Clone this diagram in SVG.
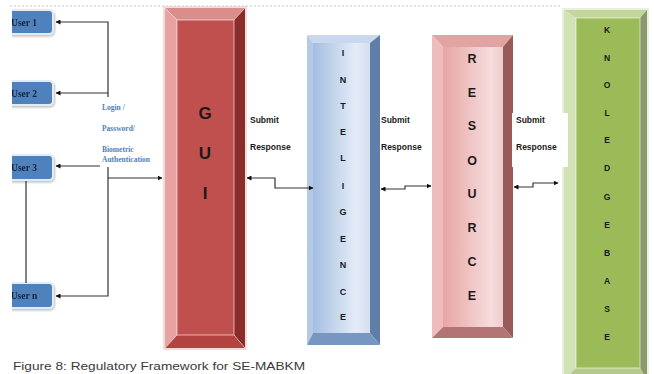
<svg xmlns="http://www.w3.org/2000/svg" width="654" height="374" viewBox="0 0 654 374">
  <defs>
    <marker id="ah" viewBox="0 0 10 10" refX="9" refY="5" markerWidth="5" markerHeight="5" orient="auto-start-reverse" markerUnits="userSpaceOnUse">
      <path d="M0,0 L10,5 L0,10 z" fill="#111"/>
    </marker>
    <linearGradient id="gBlue" x1="0" y1="0" x2="1" y2="0">
      <stop offset="0" stop-color="#a4bee1"/>
      <stop offset="0.75" stop-color="#e4ecf7"/>
      <stop offset="1" stop-color="#d3e0f1"/>
    </linearGradient>
    <linearGradient id="gPink" x1="0" y1="0" x2="1" y2="0">
      <stop offset="0" stop-color="#e8a5a5"/>
      <stop offset="0.8" stop-color="#f6dcdc"/>
      <stop offset="1" stop-color="#f0cccc"/>
    </linearGradient>
    <filter id="soft" x="-10%" y="-10%" width="130%" height="130%">
      <feDropShadow dx="1" dy="1.5" stdDeviation="1" flood-color="#000" flood-opacity="0.25"/>
    </filter>
    <clipPath id="leftEdge">
      <rect x="12" y="0" width="200" height="374"/>
    </clipPath>
  </defs>
  <style>
    .user rect { fill: #4f81bd; stroke: #e4ebf3; stroke-width: 2; }
    .user text { font-family: "Liberation Serif", serif; font-weight: bold; font-size: 9.5px; fill: #16233a; text-anchor: middle; }
    .conn path { fill: none; stroke: #333; stroke-width: 1.2; }
    .lbl { font-family: "Liberation Serif", serif; font-weight: bold; font-size: 7.5px; fill: #4f81bd; }
    .sr { font-family: "Liberation Sans", sans-serif; font-weight: bold; font-size: 8.5px; fill: #1a1a1a; }
    .ltr { font-family: "Liberation Sans", sans-serif; font-weight: bold; fill: #1a1a1a; text-anchor: middle; }
    .face { stroke: #ffffff; stroke-opacity: 0.6; stroke-width: 1; }
    .edge { stroke: #ffffff; stroke-opacity: 0.5; stroke-width: 0.8; }
    .caption { font-family: "Liberation Sans", Arial, sans-serif; font-size: 11.5px; fill: #3a3a3a; }
  </style>

  <rect width="654" height="374" fill="#ffffff"/>
  <line x1="10" y1="6" x2="560" y2="6" stroke="#c8c8c8" stroke-width="1" stroke-dasharray="2 2"/>

  <!-- users (cut off at the left margin) -->
  <g clip-path="url(#leftEdge)">
    <g id="user1" class="user" filter="url(#soft)">
      <rect x="-8" y="10" width="61" height="24" rx="4"/>
      <text x="24" y="25.5">User 1</text>
    </g>
    <g id="user2" class="user" filter="url(#soft)">
      <rect x="-8" y="81" width="61" height="24" rx="4"/>
      <text x="24" y="96.5">User 2</text>
    </g>
    <g id="user3" class="user" filter="url(#soft)">
      <rect x="-8" y="155" width="61" height="25" rx="4"/>
      <text x="24" y="171">User 3</text>
    </g>
    <g id="usern" class="user" filter="url(#soft)">
      <rect x="-8" y="283" width="61" height="25" rx="4"/>
      <text x="24" y="299">User n</text>
    </g>
  </g>

  <!-- GUI block -->
  <g id="gui">
    <rect x="164" y="7" width="82" height="342" fill="none" stroke="#f2cfcf" stroke-width="1.5"/>
    <polygon points="165,8 245,8 234,20 177,20" fill="#da8e8c"/>
    <polygon points="165,8 177,20 177,335 165,348" fill="#e6a3a2"/>
    <polygon points="245,8 245,348 234,335 234,20" fill="#8a2c2a"/>
    <polygon points="165,348 177,335 234,335 245,348" fill="#b3433f"/>
    <rect class="face" x="177" y="20" width="57" height="315" fill="#c0504d"/>
    <path class="edge" d="M165,8 L177,20 M245,8 L234,20 M165,348 L177,335 M245,348 L234,335" fill="none"/>
    <text class="ltr" x="205" y="119" font-size="17">G</text>
    <text class="ltr" x="205" y="159" font-size="17">U</text>
    <text class="ltr" x="205" y="199" font-size="17">I</text>
  </g>

  <!-- INTELLIGENCE block -->
  <g id="intelligence">
    <polygon points="307,35 380,35 370,43 313,43" fill="#c9d8ee"/>
    <polygon points="307,35 313,43 313,333 307,345" fill="#b4c9e6"/>
    <polygon points="380,35 380,345 370,333 370,43" fill="#5f7fa8"/>
    <polygon points="307,345 313,333 370,333 380,345" fill="#7897c0"/>
    <rect x="313" y="43" width="57" height="290" fill="url(#gBlue)"/>
    <g class="ltr" font-size="9">
      <text x="343" y="56">I</text>
      <text x="343" y="83">N</text>
      <text x="343" y="109">T</text>
      <text x="343" y="135">E</text>
      <text x="343" y="161">L</text>
      <text x="343" y="189">I</text>
      <text x="343" y="215">G</text>
      <text x="343" y="242">E</text>
      <text x="343" y="268">N</text>
      <text x="343" y="295">C</text>
      <text x="343" y="320">E</text>
    </g>
  </g>

  <!-- RESOURCE block -->
  <g id="resource">
    <polygon points="432,35 513,35 503,47 443,47" fill="#e2a3a3"/>
    <polygon points="432,35 443,47 443,327 432,338" fill="#efbcbc"/>
    <polygon points="513,35 513,338 503,327 503,47" fill="#995a5a"/>
    <polygon points="432,338 443,327 503,327 513,338" fill="#b27474"/>
    <rect x="443" y="47" width="60" height="280" fill="url(#gPink)"/>
    <g class="ltr" font-size="12.5">
      <text x="472" y="63">R</text>
      <text x="472" y="97">E</text>
      <text x="472" y="130">S</text>
      <text x="472" y="165">O</text>
      <text x="472" y="198">U</text>
      <text x="472" y="232">R</text>
      <text x="472" y="266">C</text>
      <text x="472" y="300">E</text>
    </g>
  </g>

  <!-- KNOLEDGEBASE block -->
  <g id="knowledgebase">
    <rect x="563" y="9" width="85" height="372" fill="none" stroke="#e3ecd2" stroke-width="1.5"/>
    <polygon points="564,10 647,10 640,18 576,18" fill="#c3d69b"/>
    <polygon points="564,10 576,18 576,368 564,380" fill="#d3e2b6"/>
    <polygon points="647,10 647,380 640,368 640,18" fill="#8b9a6c"/>
    <polygon points="564,380 576,368 640,368 647,380" fill="#b5c98a"/>
    <rect class="face" x="576" y="18" width="64" height="350" fill="#9bbb59"/>
    <g class="ltr" font-size="8.5">
      <text x="607" y="33">K</text>
      <text x="607" y="61">N</text>
      <text x="607" y="88">O</text>
      <text x="607" y="116">L</text>
      <text x="607" y="143">E</text>
      <text x="607" y="171">D</text>
      <text x="607" y="200">G</text>
      <text x="607" y="228">E</text>
      <text x="607" y="256">B</text>
      <text x="607" y="284">A</text>
      <text x="607" y="312">S</text>
      <text x="607" y="340">E</text>
    </g>
  </g>

  <!-- label backing over the knowledge base edge -->
  <rect x="512" y="113" width="56" height="54" fill="#ffffff"/>

  <!-- connectors -->
  <g id="connectors" class="conn">
    <path d="M108,97 V22 H56" marker-end="url(#ah)"/>
    <path d="M108,93 H56" marker-end="url(#ah)"/>
    <path d="M100,166 H56" marker-end="url(#ah)"/>
    <path d="M108,167 V296 H56" marker-end="url(#ah)"/>
    <path d="M108,178 H162" marker-end="url(#ah)"/>
    <path d="M26,181 V283" stroke="#666"/>
    <path d="M247,178 H275 V188 H313" marker-start="url(#ah)" marker-end="url(#ah)"/>
    <path d="M381,189 H405 V186 H431" marker-start="url(#ah)" marker-end="url(#ah)"/>
    <path d="M514,187 H533 V183 H558" marker-start="url(#ah)" marker-end="url(#ah)"/>
  </g>

  <!-- connector labels -->
  <g id="labels">
    <text class="lbl" x="102" y="110">Login /</text>
    <text class="lbl" x="102" y="131">Password/</text>
    <text class="lbl" x="102" y="152">Biometric</text>
    <text class="lbl" x="102" y="162">Authentication</text>
    <text class="sr" x="250" y="123">Submit</text>
    <text class="sr" x="250" y="150">Response</text>
    <text class="sr" x="381" y="123">Submit</text>
    <text class="sr" x="381" y="150">Response</text>
    <text class="sr" x="516" y="123">Submit</text>
    <text class="sr" x="516" y="150">Response</text>
  </g>

  <text class="caption" x="13" y="370" textLength="292" lengthAdjust="spacingAndGlyphs">Figure 8: Regulatory Framework for SE-MABKM</text>
</svg>
